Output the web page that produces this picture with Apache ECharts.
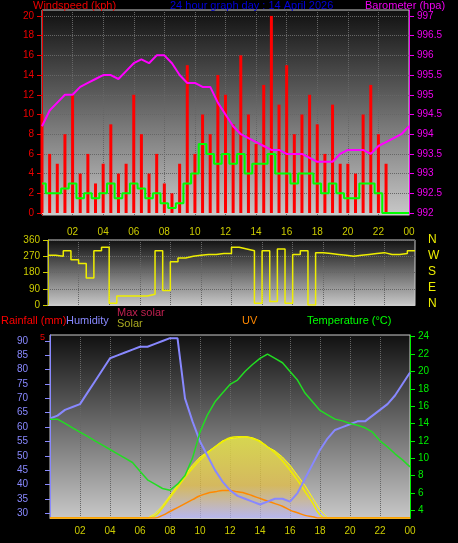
<!DOCTYPE html>
<html><head><meta charset="utf-8">
<script src="https://cdn.jsdelivr.net/npm/echarts@6/dist/echarts.min.js"></script>
<style>body{margin:0;background:#000}#c{width:458px;height:543px}</style>
</head><body><div id="c"></div>
<script>
// half-hourly samples, 0h .. 24h
var gust = [10,6,5,8,12,4,6,3,5,9,4,5,12,8,4,6,3,2,5,15,6,10,8,14,12,9,16,10,7,13,20,11,15,8,10,12,9,6,11,5,5,4,10,13,8,5,0,0,0];
var avgWind = [3,2,2,2.5,3,1.5,2,1.5,2,3,1.5,2,3,2.5,1.5,2,1,0.5,1,3,4,7,6,5,6,5,6,4,5,5,6,4,4,3,4,4,3,2,3,2,1.5,1.5,3,3,2,0,0,0,0];
var baro = [994.2,994.6,994.8,995,995,995.2,995.3,995.4,995.5,995.5,995.4,995.6,995.8,995.9,995.8,996,996,995.8,995.5,995.3,995.3,995.2,995.2,994.8,994.5,994.2,994,993.9,993.8,993.7,993.6,993.6,993.5,993.5,993.5,993.4,993.3,993.3,993.3,993.5,993.6,993.6,993.6,993.5,993.7,993.8,993.9,994,994.2];
var winddir = [275,270,300,250,230,150,300,320,10,50,50,50,50,60,300,80,240,260,270,275,280,280,285,285,320,310,300,10,300,20,310,10,280,300,0,290,285,280,275,270,275,280,285,290,280,280,285,300,300];
var humidity = [63,64,66,67,68,72,76,80,84,85,86,87,88,88,89,90,91,91,70,62,55,50,45,41,38,36,35,34,33,34,35,35,34,37,42,47,52,56,59,60,61,62,62,64,66,68,71,75,79];
var temperature = [14.5,14.5,14,13.5,13,12.5,12,11.5,11,10.5,10,9.5,8.5,7.5,7,6.5,6.3,7,8,10,13,15,16.5,17.5,18.5,19,20,20.8,21.5,22,21.5,21,20,19,17.5,16.5,15.5,15,14.5,14.3,14,13.8,13.5,13,12,11.3,10.5,9.8,9];
var solar = [0,0,0,0,0,0,0,0,0,0,0,0,0,0,40,120,220,320,420,520,600,650,700,760,780,790,800,790,760,700,660,600,520,420,320,200,80,0,0,0,0,0,0,0,0,0,0,0,0];
var maxSolar = [0,0,0,0,0,0,0,0,0,0,0,0,0,0,20,100,200,300,400,490,570,640,700,750,790,800,800,780,750,700,640,560,470,370,260,150,30,0,0,0,0,0,0,0,0,0,0,0,0];
var uv = [0,0,0,0,0,0,0,0,0,0,0,0,0,0,0,0.2,0.5,0.8,1.1,1.4,1.7,1.9,2,2.1,2.1,2,1.9,1.7,1.5,1.3,1.1,0.9,0.6,0.4,0.2,0.1,0,0,0,0,0,0,0,0,0,0,0,0,0];
var windTicks = [0,2,4,6,8,10,12,14,16,18,20];
var baroTicks = [992,992.5,993,993.5,994,994.5,995,995.5,996,996.5,997];
var humTicks = [30,35,40,45,50,55,60,65,70,75,80,85,90];
var tempTicks = [4,6,8,10,12,14,16,18,20,22,24];
var compass = ['N','W','S','E','N'];

function pts(a){ return a.map(function(v,i){ return [i*0.5, v]; }); }
var bg = {type:'linear',x:0,y:0,x2:0,y2:1,colorStops:[{offset:0,color:'#101010'},{offset:1,color:'#c8c8c8'}]};
var hourFmt = function(v){ if(v===0) return ''; var h=v%24; return (h<10?'0':'')+h; };
var split = {show:true,lineStyle:{color:'#666',type:'dotted'}};
var xBase = {type:'value',min:0,max:24,interval:2,splitLine:split,axisTick:{show:false},axisLine:{lineStyle:{color:'#ccc'}}};
var font = 'Liberation Sans';
function yax(o, ticks, color){
  return Object.assign({axisLine:{show:true,lineStyle:{color:color}},
    axisTick:{show:true,customValues:ticks,lineStyle:{color:color}},
    axisLabel:{color:color,fontSize:10,customValues:ticks},
    splitLine:{show:false}}, o);
}

var chart = echarts.init(document.getElementById('c'));
chart.setOption({
  backgroundColor:'#000',
  textStyle:{fontFamily:font},
  animation:false,
  grid:[
    {left:42,top:10,width:367,height:205,show:true,backgroundColor:bg,borderColor:'#ccc'},
    {left:48,top:240,width:367,height:65,show:true,backgroundColor:bg,borderColor:'#ccc'},
    {left:50,top:335,width:360,height:183,show:true,backgroundColor:bg,borderColor:'#ccc'}
  ],
  xAxis:[
    Object.assign({gridIndex:0,axisLabel:{color:'#cccc00',fontSize:10,formatter:hourFmt,margin:12}},xBase),
    Object.assign({gridIndex:1,axisLabel:{show:false}},xBase),
    Object.assign({gridIndex:2,axisLabel:{color:'#cccc00',fontSize:10,formatter:hourFmt,margin:8}},xBase)
  ],
  yAxis:[
    yax({gridIndex:0,min:-0.2,max:20.6,splitLine:{show:true,lineStyle:{color:'#666',type:'dotted'}}},windTicks,'#e00'),
    yax({gridIndex:0,position:'right',min:991.95,max:997.15},baroTicks,'#e0e'),
    {gridIndex:1,min:0,max:360,interval:90,splitLine:split,axisLine:{show:true,lineStyle:{color:'#cccc00'}},axisTick:{show:true},axisLabel:{color:'#cccc00',fontSize:10}},
    yax({gridIndex:2,min:28.3,max:92.1,offset:14},humTicks,'#88f'),
    yax({gridIndex:2,position:'right',min:3.1,max:24.2},tempTicks,'#0e0'),
    {gridIndex:2,min:0,max:1800,show:false},
    {gridIndex:2,min:0,max:14,show:false}
  ],
  series:[
    {type:'bar',xAxisIndex:0,yAxisIndex:0,data:pts(gust),barWidth:3,itemStyle:{color:'#f00'}},
    {type:'line',xAxisIndex:0,yAxisIndex:0,data:pts(avgWind),step:'middle',symbol:'none',lineStyle:{color:'#0f0',width:2}},
    {type:'line',xAxisIndex:0,yAxisIndex:1,data:pts(baro),symbol:'none',lineStyle:{color:'#f0f',width:2}},
    {type:'line',xAxisIndex:1,yAxisIndex:2,data:pts(winddir),step:'end',symbol:'none',lineStyle:{color:'#ee0',width:1.5}},
    {type:'line',xAxisIndex:2,yAxisIndex:5,data:pts(solar),symbol:'none',lineStyle:{color:'#ff0',width:1},
      areaStyle:{color:{type:'linear',x:0,y:0,x2:0,y2:1,colorStops:[{offset:0,color:'#ffff40'},{offset:0.6,color:'#e8c040'},{offset:1,color:'#b0b0ff'}]}}},
    {type:'line',xAxisIndex:2,yAxisIndex:5,data:pts(maxSolar),smooth:true,symbol:'none',lineStyle:{color:'#ee0',width:1.5}},
    {type:'line',xAxisIndex:2,yAxisIndex:6,data:pts(uv),smooth:true,symbol:'none',lineStyle:{color:'#f80',width:1.5}},
    {type:'line',xAxisIndex:2,yAxisIndex:3,data:pts(humidity),symbol:'none',lineStyle:{color:'#88f',width:2}},
    {type:'line',xAxisIndex:2,yAxisIndex:4,data:pts(temperature),symbol:'none',lineStyle:{color:'#2d2',width:1.5}}
  ],
  graphic:[
    {type:'text',left:33,top:0,style:{text:'Windspeed (kph)',fill:'#e00',font:'11px '+font}},
    {type:'text',left:170,top:0,style:{text:'24 hour graph day : 14 April 2026',fill:'#00d',font:'11px '+font}},
    {type:'text',left:365,top:0,style:{text:'Barometer (hpa)',fill:'#e0e',font:'11px '+font}},
    {type:'text',left:1,top:315,style:{text:'Rainfall (mm)',fill:'#f00',font:'11px '+font}},
    {type:'text',left:66,top:315,style:{text:'Humidity',fill:'#88f',font:'11px '+font}},
    {type:'text',left:117,top:307,style:{text:'Max solar',fill:'#c02050',font:'11px '+font}},
    {type:'text',left:117,top:318,style:{text:'Solar',fill:'#aaaa20',font:'11px '+font}},
    {type:'text',left:242,top:315,style:{text:'UV',fill:'#f80',font:'11px '+font}},
    {type:'text',left:307,top:315,style:{text:'Temperature (°C)',fill:'#0f0',font:'11px '+font}},
    {type:'text',left:40,top:333,style:{text:'5',fill:'#e00',font:'9px '+font}}
  ].concat(compass.map(function(c,i){ return {type:'text',left:428,top:234+i*16,style:{text:c,fill:'#ee0',font:'12px '+font}}; }))
});
</script></body></html>
